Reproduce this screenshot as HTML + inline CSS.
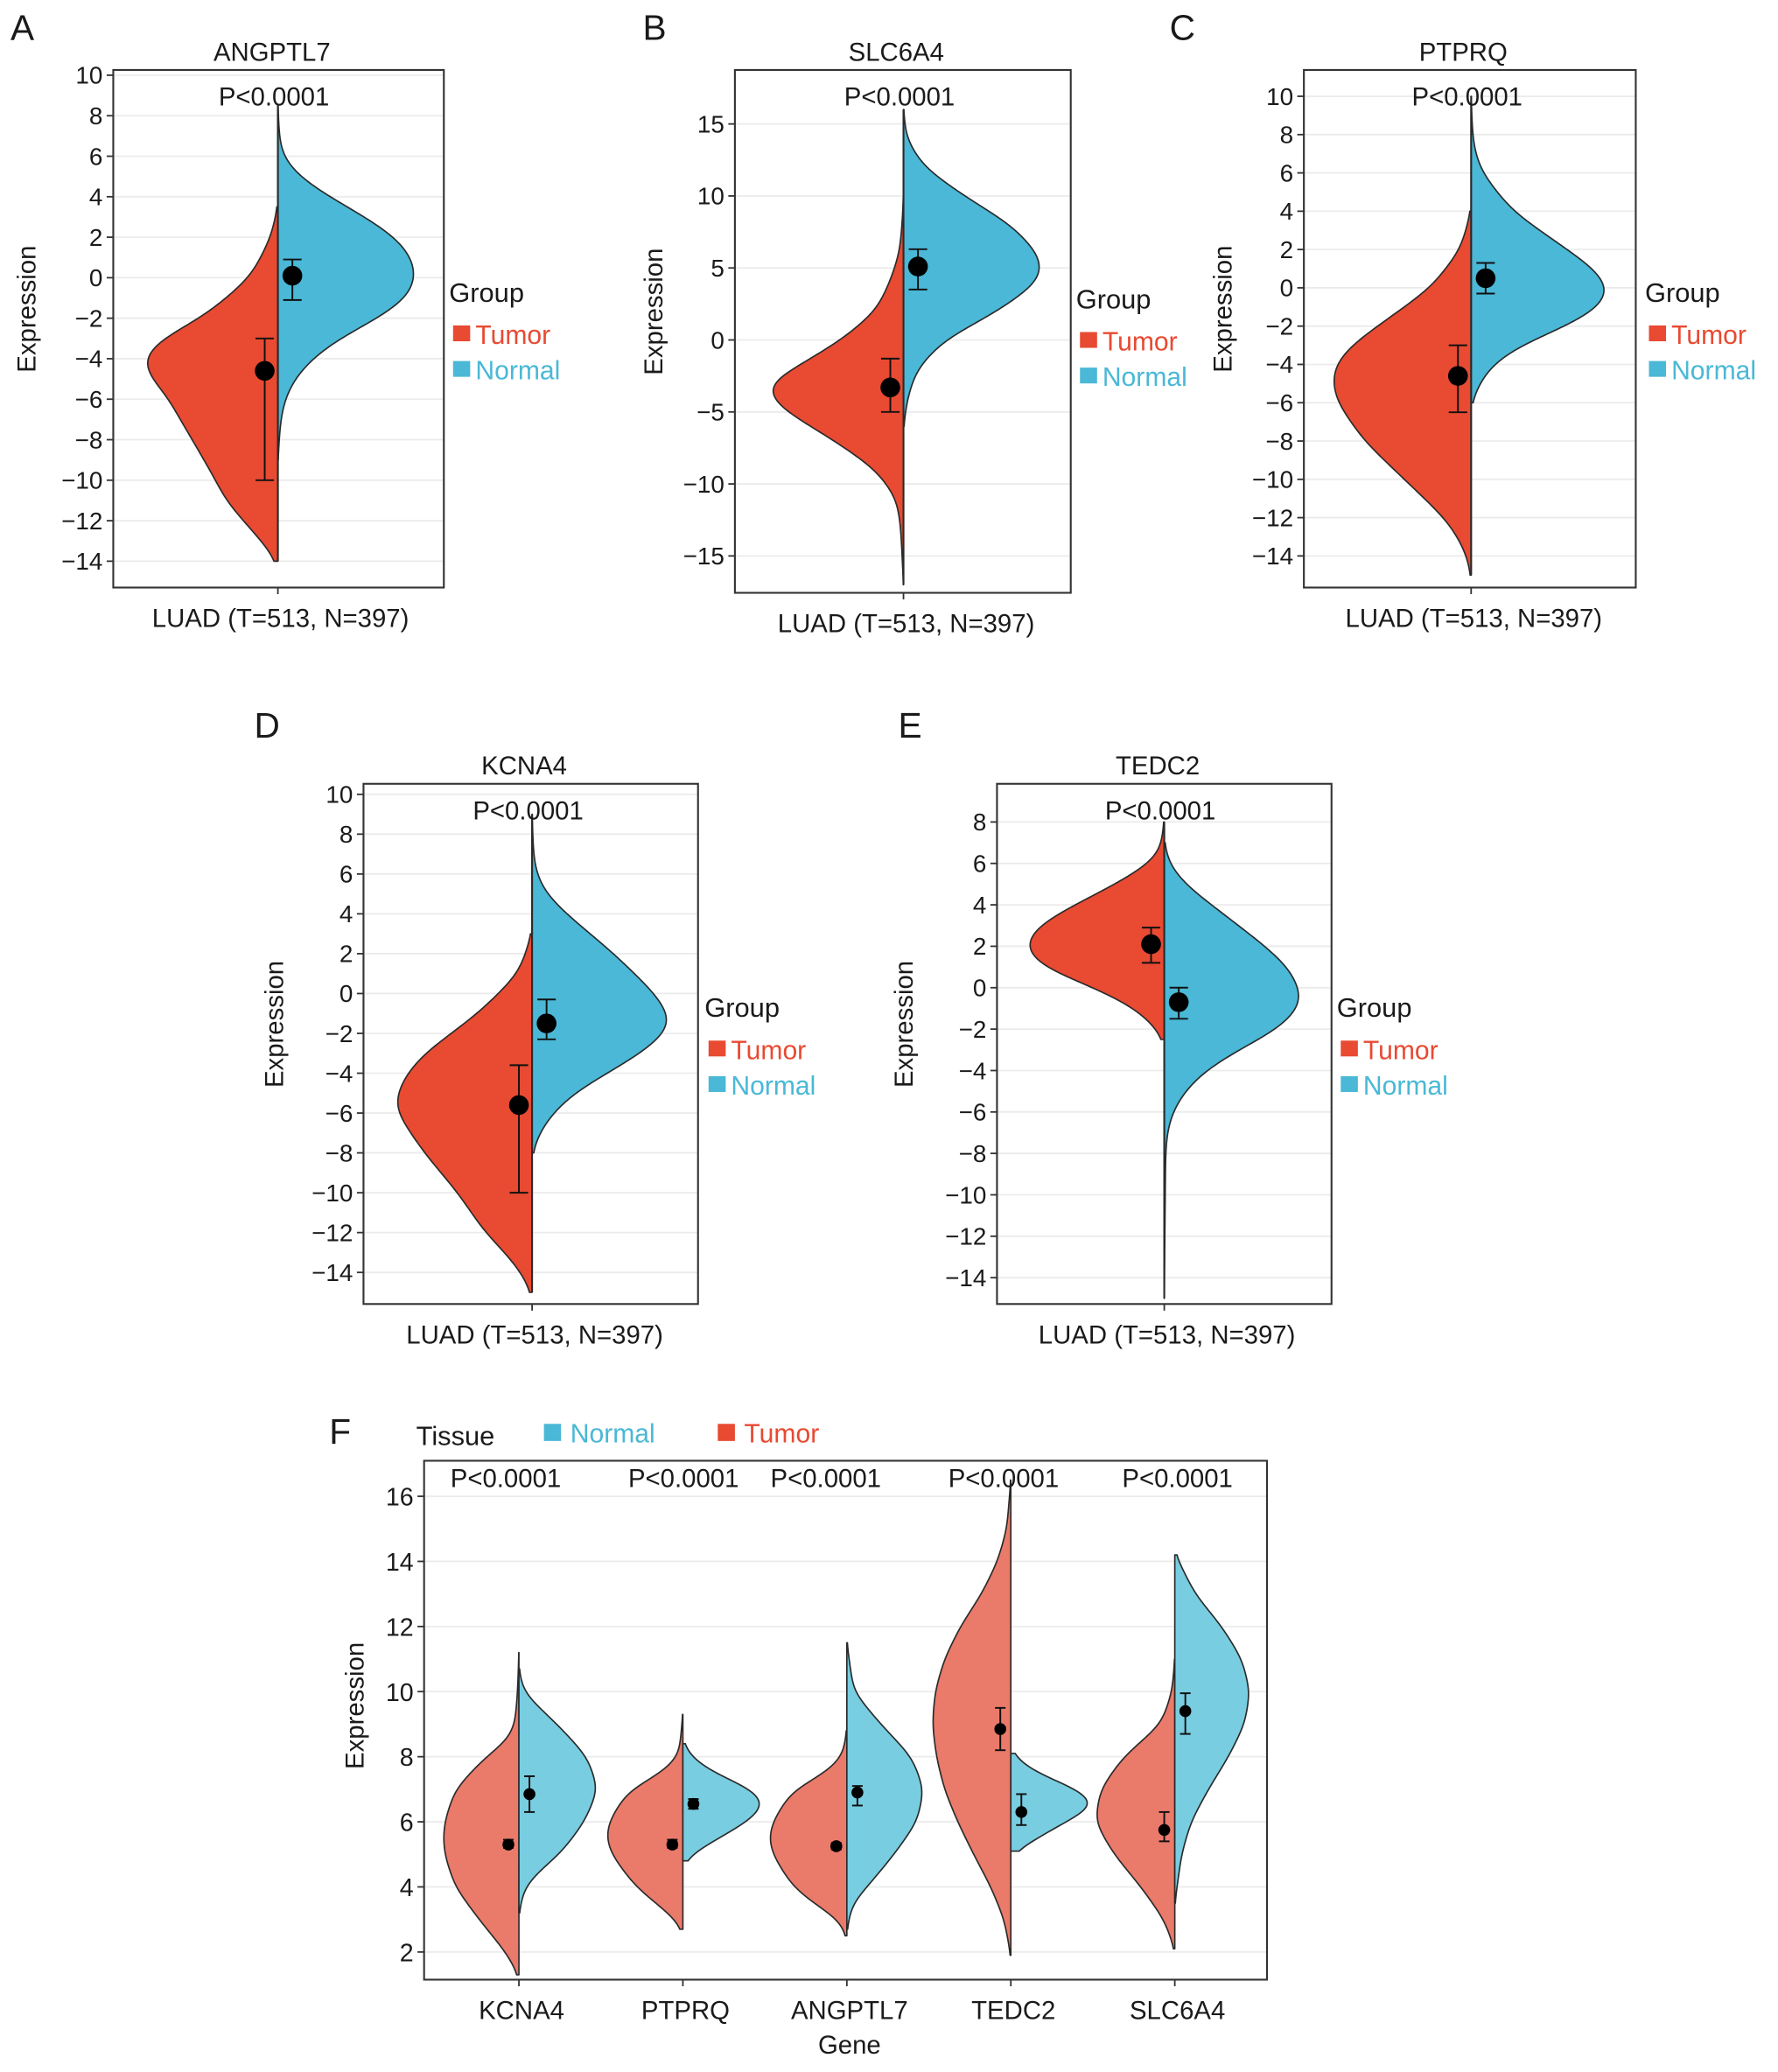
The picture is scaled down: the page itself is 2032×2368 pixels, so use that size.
<!DOCTYPE html>
<html><head><meta charset="utf-8"><style>
html,body{margin:0;padding:0;background:#fff}
svg{display:block}
text{font-family:"Liberation Sans",Arial,sans-serif;fill:#1a1a1a}
</style></head><body>
<svg id="fig" width="2032" height="2368" viewBox="0 0 1350 1573" xmlns="http://www.w3.org/2000/svg"></svg>
<script>
// ---------- data ----------
const panelGenes = ["ANGPTL7","SLC6A4","PTPRQ","KCNA4","TEDC2"];
const tumorA = [[3.5,0],[2,5],[0,20],[-2,55],[-3,85],[-4,99],[-5,92],[-5.8,80],[-6.5,75],[-8,62],[-10,45],[-11,38],[-12,25],[-13,12],[-14,0]];
const normalA = [[8.5,0],[7,1],[6,3],[5,15],[4,38],[3,65],[2,88],[1,100],[0,103],[-1,97],[-2,75],[-3,45],[-4,25],[-5,12],[-6,5],[-7,2],[-9,0]];
const tumorB = [[10,0],[8,1],[6,3],[4,10],[2,20],[0,45],[-2,80],[-3,99],[-4,97],[-5,85],[-7,50],[-9,20],[-11,5],[-13,2],[-17,0]];
const normalB = [[16,0],[14,2],[12,15],[10,45],[8,80],[6,100],[5,103],[4,100],[2,70],[0,30],[-2,10],[-4,3],[-6,0]];
const tumorC = [[4,0],[2,8],[0,30],[-2,70],[-3,90],[-4,102],[-5,104],[-6,100],[-8,80],[-10,50],[-12,20],[-13,10],[-14,3],[-15,0]];
const normalC = [[10,0],[8,1],[7,3],[6,8],[4,30],[2,70],[1,90],[0,101],[-1,95],[-2,70],[-3,35],[-4,15],[-5,6],[-6,0]];
const tumorD = [[3,0],[1,10],[0,25],[-1,40],[-2,60],[-3,80],[-4,93],[-5,100],[-5.5,102],[-6,100],[-8,80],[-10,55],[-11,45],[-12,35],[-13,20],[-14,8],[-15,0]];
const normalD = [[9,0],[7,1],[6,3],[5,10],[4,25],[2,60],[0,90],[-1,100],[-1.5,102],[-2,98],[-3,80],[-4,55],[-5,30],[-6,15],[-7,5],[-8,0]];
const tumorE = [[8,0],[6.5,3],[6,10],[5,35],[4,65],[3,92],[2,102],[1,90],[0,50],[-1,20],[-2,5],[-2.5,0]];
const normalE = [[7,0],[6,3],[5,15],[4,35],[2,75],[1,92],[0,100],[-0.5,102],[-1,100],[-2,85],[-3,55],[-4,30],[-5,15],[-6,6],[-7,2],[-8,1],[-15,0]];
// mean, errLow, errHigh  (tumor, normal)
const statsTumor = [[-4.6,-10,-3],[-3.3,-5,-1.3],[-4.6,-6.5,-3],[-5.6,-10,-3.6],[2.1,1.2,2.9]];
const statsNormal = [[0.1,-1.1,0.9],[5.1,3.5,6.3],[0.5,-0.3,1.3],[-1.5,-2.3,-0.3],[-0.7,-1.5,0]];
const ticksA = [10,8,6,4,2,0,-2,-4,-6,-8,-10,-12,-14];
const ticksB = [15,10,5,0,-5,-10,-15];
const ticksE = [8,6,4,2,0,-2,-4,-6,-8,-10,-12,-14];

const genesF = ["KCNA4","PTPRQ","ANGPTL7","TEDC2","SLC6A4"];
const tumorF = [
 [[11.2,0],[10,1],[9,3],[8.5,8],[8,25],[7,48],[6,56],[5.5,57],[5,56],[4,48],[3,30],[2,10],[1.3,0]],
 [[9.3,0],[8,3],[7.5,15],[7,40],[6,55],[5.5,57],[5,53],[4,35],[3.5,20],[3,5],[2.7,0]],
 [[8.8,0],[8,3],[7.5,15],[7,40],[6,55],[5.5,58],[5,55],[4,40],[3.5,25],[3,5],[2.5,0]],
 [[16.5,0],[15,3],[14,10],[13,22],[12,38],[11,50],[10,57],[9,59],[8,56],[7,50],[6,40],[5,28],[4,15],[3,5],[1.9,0]],
 [[11,0],[10,2],[9,10],[8,38],[7,55],[6,59],[5,45],[4,25],[3,8],[2.1,0]]
];
const normalF = [
 [[10.7,0],[10,3],[9.5,15],[9,28],[8,50],[7,58],[6,48],[5,30],[4.5,15],[4,4],[3.2,0]],
 [[8.4,0],[8,5],[7.5,20],[7,50],[6.5,58],[6,45],[5.5,25],[5,5],[4.8,0]],
 [[11.5,0],[10,5],[9,25],[8,48],[7,57],[6,52],[5,35],[4,15],[3.5,4],[2.7,0]],
 [[8.1,0],[8,2],[7.5,15],[7,45],[6.5,58],[6,35],[5.5,18],[5.2,6],[5.1,0]],
 [[14.2,0],[14,3],[13,15],[12,35],[11,50],[10,56],[9,52],[8,40],[7,25],[6,12],[5,5],[3.5,0]]
];
const statsTumorF = [[5.3,5.2,5.45],[5.3,5.2,5.45],[5.25,5.15,5.35],[8.85,8.2,9.5],[5.75,5.4,6.3]];
const statsNormalF = [[6.85,6.3,7.4],[6.55,6.4,6.7],[6.9,6.5,7.1],[6.3,5.9,6.85],[9.4,8.7,9.95]];
const ticksF = [16,14,12,10,8,6,4,2];

// ---------- helpers ----------
const NS="http://www.w3.org/2000/svg";
const svg=document.getElementById('fig');
function el(tag,attrs,parent,txt){const e=document.createElementNS(NS,tag);for(const k in attrs)e.setAttribute(k,attrs[k]);if(txt!==undefined)e.textContent=txt;(parent||svg).appendChild(e);return e;}
function fmt(v){return v<0?"\u2212"+Math.abs(v):String(v);}
// resample density linearly then gaussian-smooth the widths
function smoothDens(dens,sigma){
  const hi=dens[0][0],lo=dens[dens.length-1][0];
  const n=300,step=(hi-lo)/n,vals=[],ws=[];
  let j=0;
  for(let k=0;k<=n;k++){
    const v=hi-k*step;
    while(j<dens.length-2&&dens[j+1][0]>v)j++;
    const a=dens[j],b=dens[j+1];
    const t=(a[0]-v)/(a[0]-b[0]||1);
    vals.push(v);ws.push(a[1]+(b[1]-a[1])*Math.max(0,Math.min(1,t)));
  }
  const out=[];
  const rad=Math.ceil(3*sigma/step);
  for(let k=0;k<=n;k++){
    let s=0,wt=0;
    for(let m=-rad;m<=rad;m++){const q=k+m;const w=Math.exp(-0.5*Math.pow(m*step/sigma,2));const val=(q<0||q>n)?0:ws[q];s+=val*w;wt+=w;}
    out.push([vals[k],s/wt]);
  }
  const peakO=Math.max(...ws),peakS=Math.max(...out.map(o=>o[1]));
  return out.map(o=>[o[0],o[1]*peakO/peakS]);
}
function halfViolin(g,ys,dens,cx,dir,fill,name,sigma){
  const sd=smoothDens(dens,sigma);
  const pts=sd.map(d=>[cx+dir*d[1],ys(d[0])]);
  const top=ys(dens[0][0]),bot=ys(dens[dens.length-1][0]);
  let d="M"+cx+","+top;
  pts.forEach(p=>{d+=" L"+p[0].toFixed(2)+","+p[1].toFixed(2);});
  d+=" L"+cx+","+bot+" Z";
  const p=el('path',{d:d,fill:fill,stroke:"#2a2a2a","stroke-width":1.1,"stroke-linejoin":"round"},g);
  
  
}
function meanPt(g,ys,x,s,r,cap,name){
  const grp=el('g',{},g);
  
  
  el('line',{x1:x,x2:x,y1:ys(s[1]),y2:ys(s[2]),stroke:"#111","stroke-width":1.3},grp);
  el('line',{x1:x-cap,x2:x+cap,y1:ys(s[1]),y2:ys(s[1]),stroke:"#111","stroke-width":1.3},grp);
  el('line',{x1:x-cap,x2:x+cap,y1:ys(s[2]),y2:ys(s[2]),stroke:"#111","stroke-width":1.3},grp);
  el('circle',{cx:x,cy:ys(s[0]),r:r,fill:"#000"},grp);
}

// ---------- panels A-E ----------
const panels=[
 {L:"A",lx:8,ly:30,box:[86,53,337,446],v0:10,p0:57,v1:-14,p1:426,cx:211,ticks:ticksA,tumor:tumorA,normal:normalA,gx:341,gy:222,ylx:27},
 {L:"B",lx:488,ly:30,box:[558,53,813,450],v0:15,p0:94,v1:-15,p1:422,cx:686,ticks:ticksB,tumor:tumorB,normal:normalB,gx:817,gy:227,ylx:503},
 {L:"C",lx:888,ly:30,box:[990,53,1242,446],v0:10,p0:73,v1:-14,p1:422,cx:1117,ticks:ticksA,tumor:tumorC,normal:normalC,gx:1249,gy:222,ylx:935},
 {L:"D",lx:193,ly:560,box:[276,595,530,990],v0:10,p0:603,v1:-14,p1:966,cx:404,ticks:ticksA,tumor:tumorD,normal:normalD,gx:535,gy:765,ylx:215},
 {L:"E",lx:682,ly:560,box:[757,595,1011,990],v0:8,p0:624,v1:-14,p1:970,cx:884,ticks:ticksE,tumor:tumorE,normal:normalE,gx:1015,gy:765,ylx:693}
];
const TUM="#e84a32",NOR="#4ab8d6";
panels.forEach((P,i)=>{
  const g=el('g',{});
  
  
  const ys=v=>P.p0+(v-P.v0)*(P.p1-P.p0)/(P.v1-P.v0);
  const [x0,y0,x1,y1]=P.box;
  const lt=el('text',{x:P.lx,y:P.ly,"font-size":27},g,P.L);
  
  const ttl=el('text',{x:(x0+x1)/2-5,y:y0-7,"font-size":19.5,"text-anchor":"middle"},g,panelGenes[i]);
  
  P.ticks.forEach(t=>{
    const y=ys(t);
    el('line',{x1:x0,x2:x1,y1:y,y2:y,stroke:"#ebebeb","stroke-width":1.2},g);
    el('line',{x1:x0-5,x2:x0,y1:y,y2:y,stroke:"#333","stroke-width":1.2},g);
    const tl=el('text',{x:x0-8,y:y+6.5,"font-size":18.5,"text-anchor":"end"},g,fmt(t));
    
  });
  const sig=Math.abs(P.v0-P.v1)*0.025;
  halfViolin(g,ys,P.tumor,P.cx,-1,TUM,'violin-tumor',sig);
  halfViolin(g,ys,P.normal,P.cx,1,NOR,'violin-normal',sig);
  const lo=Math.min(P.tumor[P.tumor.length-1][0],P.normal[P.normal.length-1][0]);
  const hi=Math.max(P.tumor[0][0],P.normal[0][0]);
  el('line',{x1:P.cx,x2:P.cx,y1:ys(hi),y2:ys(lo),stroke:"#2a2a2a","stroke-width":1.4},g);
  meanPt(g,ys,P.cx-10,statsTumor[i],7.5,7,'mean-tumor');
  meanPt(g,ys,P.cx+11,statsNormal[i],7.5,7,'mean-normal');
  el('rect',{x:x0,y:y0,width:x1-x0,height:y1-y0,fill:"none",stroke:"#333","stroke-width":1.4},g);
  el('line',{x1:P.cx,x2:P.cx,y1:y1,y2:y1+5,stroke:"#333","stroke-width":1.2},g);
  const pv=el('text',{x:P.cx-3,y:y0+27,"font-size":19.5,"text-anchor":"middle"},g,"P<0.0001");
  
  const xl=el('text',{x:P.cx+2,y:y1+30,"font-size":19.5,"text-anchor":"middle"},g,"LUAD (T=513, N=397)");
  
  const yl=el('text',{x:P.ylx,y:(y0+y1)/2-15,"font-size":19.5,"text-anchor":"middle",transform:"rotate(-90 "+(P.ylx)+" "+((y0+y1)/2-15)+")"},g,"Expression");
  
  const lg=el('g',{},g);
  
  el('text',{x:P.gx,y:P.gy+7,"font-size":20.5},lg,"Group");
  el('rect',{x:P.gx+3,y:P.gy+25,width:13,height:12,fill:TUM},lg);
  el('text',{x:P.gx+20,y:P.gy+39,"font-size":20,style:"fill:"+TUM},lg,"Tumor");
  el('rect',{x:P.gx+3,y:P.gy+52,width:13,height:12,fill:NOR},lg);
  el('text',{x:P.gx+20,y:P.gy+66,"font-size":20,style:"fill:"+NOR},lg,"Normal");
});

// ---------- panel F ----------
(function(){
  const g=el('g',{});
  
  
  const x0=322,y0=1109,x1=962,y1=1503;
  const ys=v=>1136+(v-16)*(1482-1136)/(2-16);
  const xs=i=>394+i*124.5;
  const TF="#ea7a6a",NF="#78cde0";
  const lt=el('text',{x:250,y:1096,"font-size":27},g,"F");
  
  const lg=el('g',{},g);
  
  el('text',{x:316,y:1097,"font-size":20.5},lg,"Tissue");
  el('rect',{x:413,y:1081,width:13,height:13,fill:"#4ab8d6"},lg);
  el('text',{x:433,y:1095,"font-size":20,style:"fill:#4ab8d6"},lg,"Normal");
  el('rect',{x:545,y:1081,width:13,height:13,fill:"#e84a32"},lg);
  el('text',{x:565,y:1095,"font-size":20,style:"fill:#e84a32"},lg,"Tumor");
  ticksF.forEach(t=>{
    const y=ys(t);
    el('line',{x1:x0,x2:x1,y1:y,y2:y,stroke:"#ebebeb","stroke-width":1.2},g);
    el('line',{x1:x0-5,x2:x0,y1:y,y2:y,stroke:"#333","stroke-width":1.2},g);
    const tl=el('text',{x:x0-8,y:y+7,"font-size":19,"text-anchor":"end"},g,String(t));
    
  });
  const pxs=[384,519,627,762,894];
  genesF.forEach((gn,i)=>{
    const cx=xs(i);
    halfViolin(g,ys,tumorF[i],cx,-1,TF,'violin-tumor-'+gn.toLowerCase(),0.3);
    halfViolin(g,ys,normalF[i],cx,1,NF,'violin-normal-'+gn.toLowerCase(),0.3);
    meanPt(g,ys,cx-8,statsTumorF[i],4.5,4,'mean-tumor');
    meanPt(g,ys,cx+8,statsNormalF[i],4.5,4,'mean-normal');
    el('line',{x1:cx,x2:cx,y1:y1,y2:y1+5,stroke:"#333","stroke-width":1.2},g);
    const xl=el('text',{x:cx+2,y:1533,"font-size":19.5,"text-anchor":"middle"},g,gn);
    
    const pv=el('text',{x:pxs[i],y:1129,"font-size":19.5,"text-anchor":"middle"},g,"P<0.0001");
    
  });
  el('rect',{x:x0,y:y0,width:x1-x0,height:y1-y0,fill:"none",stroke:"#333","stroke-width":1.4},g);
  const gl=el('text',{x:645,y:1559,"font-size":19.5,"text-anchor":"middle"},g,"Gene");
  
  const yl=el('text',{x:276,y:1295,"font-size":19.5,"text-anchor":"middle",transform:"rotate(-90 276 1295)"},g,"Expression");
  
})();
</script>
</body></html>
